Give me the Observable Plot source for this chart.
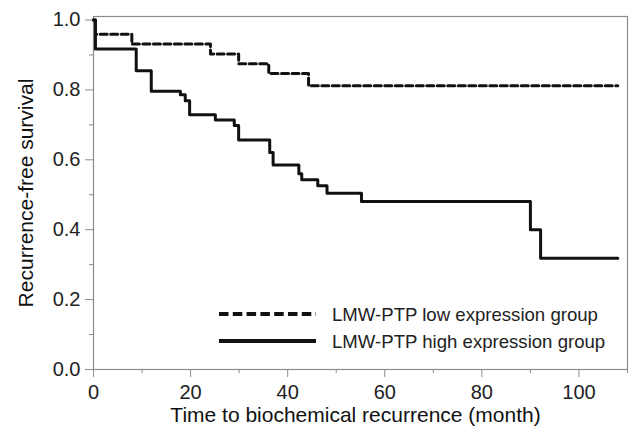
<!DOCTYPE html>
<html>
<head>
<meta charset="utf-8">
<script src="https://cdn.jsdelivr.net/npm/d3@7"></script>
<script src="https://cdn.jsdelivr.net/npm/@observablehq/plot@0.6"></script>
<style>
  body { margin: 0; background: #fff; }
  #chart { width: 630px; height: 426px; }
</style>
</head>
<body>
<div id="chart"></div>
<script>
// Series names (legend)
const seriesNames = ["LMW-PTP low expression group", "LMW-PTP high expression group"];

// LMW-PTP low expression group (dashed): time (month) and survival
const lowTime = [0, 0.4, 7.9, 24.1, 29.9, 36.1, 44.3, 108];
const lowSurv = [1.0, 0.959, 0.931, 0.903, 0.875, 0.847, 0.812, 0.812];

// LMW-PTP high expression group (solid)
const highTime = [0, 0.4, 8.8, 11.9, 17.9, 18.9, 19.8, 25.1, 29.0, 29.9, 36.3, 37.0, 42.3, 42.9, 46.2, 48.1, 55.2, 90.0, 92.1, 108];
const highSurv = [1.0, 0.917, 0.855, 0.796, 0.786, 0.769, 0.729, 0.714, 0.698, 0.657, 0.621, 0.585, 0.560, 0.543, 0.526, 0.504, 0.481, 0.400, 0.318, 0.318];

// Ticks and labels
const xMajor = [0, 20, 40, 60, 80, 100];
const xMinor = [10, 30, 50, 70, 90, 110];
const yMajor = [0, 0.2, 0.4, 0.6, 0.8, 1.0];
const yMinor = [0.1, 0.3, 0.5, 0.7, 0.9];
const xTitle = "Time to biochemical recurrence (month)";
const yTitle = "Recurrence-free survival";

const lowRows = lowTime.map((t, i) => ({t, s: lowSurv[i]}));
const highRows = highTime.map((t, i) => ({t, s: highSurv[i]}));

const axisGray = "#8c8c8c";
const chart = Plot.plot({
  width: 630,
  height: 426,
  marginLeft: 93,
  marginRight: 3,
  marginTop: 16,
  marginBottom: 57,
  style: {fontFamily: "'Liberation Sans', Arial, sans-serif", background: "#fff", color: "#222"},
  x: {domain: [0, 110], label: null},
  y: {domain: [0, 1.01], label: null},
  marks: [
    Plot.frame({stroke: axisGray, strokeWidth: 1.2}),
    Plot.axisX({ticks: xMinor, tickSize: 4, tickFormat: () => "", label: null, stroke: axisGray}),
    Plot.axisX({ticks: xMajor, tickSize: 8, tickPadding: 7, fontSize: 20, label: null, stroke: axisGray, fill: "#222"}),
    Plot.axisY({ticks: yMinor, tickSize: 4, tickFormat: () => "", label: null, stroke: axisGray}),
    Plot.axisY({ticks: yMajor, tickSize: 8, tickPadding: 5, fontSize: 20, tickFormat: d3.format(".1f"), label: null, stroke: axisGray, fill: "#222"}),
    Plot.text([xTitle], {frameAnchor: "bottom", lineAnchor: "middle", textAnchor: "middle", dy: 46, dx: -5, fontSize: 21, fill: "#111", text: d => d}),
    Plot.text([yTitle], {frameAnchor: "left", lineAnchor: "middle", textAnchor: "middle", rotate: -90, dx: -67, fontSize: 21, fill: "#111", text: d => d}),
    Plot.line(lowRows, {x: "t", y: "s", curve: "step-after", stroke: "#111", strokeWidth: 3, strokeDasharray: "7,3.5"}),
    Plot.line(highRows, {x: "t", y: "s", curve: "step-after", stroke: "#111", strokeWidth: 3})
  ]
});

// Legend inside the plot area (bottom right)
const svg = d3.select(chart);
const leg = svg.append("g")
  .attr("font-family", "'Liberation Sans', Arial, sans-serif")
  .attr("text-anchor", "start");
const legendStyles = [{dash: "9.5,4.3"}, {dash: null}];
seriesNames.forEach((name, i) => {
  const y = 314 + i * 27;
  const ln = leg.append("line")
    .attr("x1", 219).attr("x2", 316).attr("y1", y).attr("y2", y)
    .attr("stroke", "#111").attr("stroke-width", 4);
  if (legendStyles[i].dash) ln.attr("stroke-dasharray", legendStyles[i].dash);
  leg.append("text")
    .attr("x", 332).attr("y", y).attr("dy", "0.35em")
    .attr("text-anchor", "start")
    .attr("font-size", 18.6).attr("fill", "#222")
    .text(name);
});

document.getElementById("chart").appendChild(chart);
</script>
</body>
</html>
